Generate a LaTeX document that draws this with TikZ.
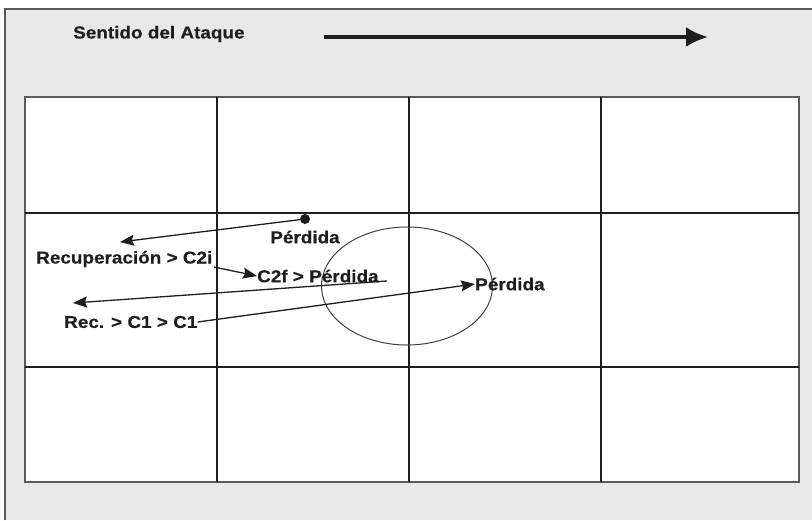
\documentclass[tikz,border=0pt]{standalone}
\usepackage{fontspec}
\setmainfont{Liberation Sans}
\newfontfamily\lblfont[FakeStretch=1.1,FakeBold=0.4]{Liberation Sans}
\usetikzlibrary{arrows.meta,shapes.geometric}
\definecolor{bgcol}{HTML}{E8E8E8}
\definecolor{ink}{HTML}{1E1E1E}
\definecolor{framecol}{HTML}{5A5A5A}
\tikzset{
  lbl/.style={inner sep=0pt, anchor=west, text=ink, font=\lblfont\bfseries\fontsize{17.2}{20}\selectfont},
  gridline/.style={draw=ink, line width=1.1pt},
  conn/.style={draw=ink, line width=1.3pt},
  tipped/.style={conn, -{Stealth[length=14pt,width=11pt,inset=2pt]}},
  bigarrow/.style={draw=ink, line width=3.6pt, -{Latex[length=22pt,width=20pt]}},
}
\begin{document}
\begin{tikzpicture}[x=1pt,y=-1pt]
\useasboundingbox (0,0) rectangle (812,520);
\fill[white] (0,0) rectangle (812,520);
\fill[bgcol] (5,9) rectangle (812,520);
\draw[framecol, line width=1.6pt] (5,520) -- (5,9) -- (812,9);
% field grid
\fill[white] (25,97) rectangle (799,482);
\draw[gridline, draw=framecol, line width=1.6pt] (25,97) rectangle (799,482);
\foreach \x in {217,409,601} \draw[gridline] (\x,97) -- (\x,482);
\foreach \y in {213,367} \draw[gridline] (25,\y) -- (799,\y);
% header
\node[lbl] (title) at (73,34) {Sentido del Ataque};
\coordinate (hA) at (324,37);
\coordinate (hB) at (708,37);
\draw[bigarrow] (hA) -- (hB);
% loss zone ellipse
\node[ellipse, draw=ink!85, line width=1pt, minimum width=171pt, minimum height=118pt, inner sep=0pt] (zone) at (407,286) {};
% first sequence
\node[circle, fill=ink, inner sep=0pt, minimum size=10pt] (dot) at (305,219) {};
\node[lbl, anchor=center] (perd1) at (305,237) {Pérdida};
\coordinate (t1) at (120,242);
\draw[tipped] (dot) -- (t1);
\node[lbl] (rec1) at (36,259) {Recuperación > C2i};
\node[lbl] (c2f) at (257,276) {C2f > Pérdida};
\coordinate (s2) at (214,267);
\draw[tipped] (s2) -- (c2f.west);
\coordinate (s3) at (387,281);
\coordinate (t3) at (73,303);
\draw[tipped] (s3) -- (t3);
\node[lbl] (rec2) at (64,322) {Rec. > C1 > C1};
\node[lbl] (perd2) at (475,284) {Pérdida};
\draw[tipped] (rec2.east) -- (perd2.west);
\end{tikzpicture}
\end{document}
